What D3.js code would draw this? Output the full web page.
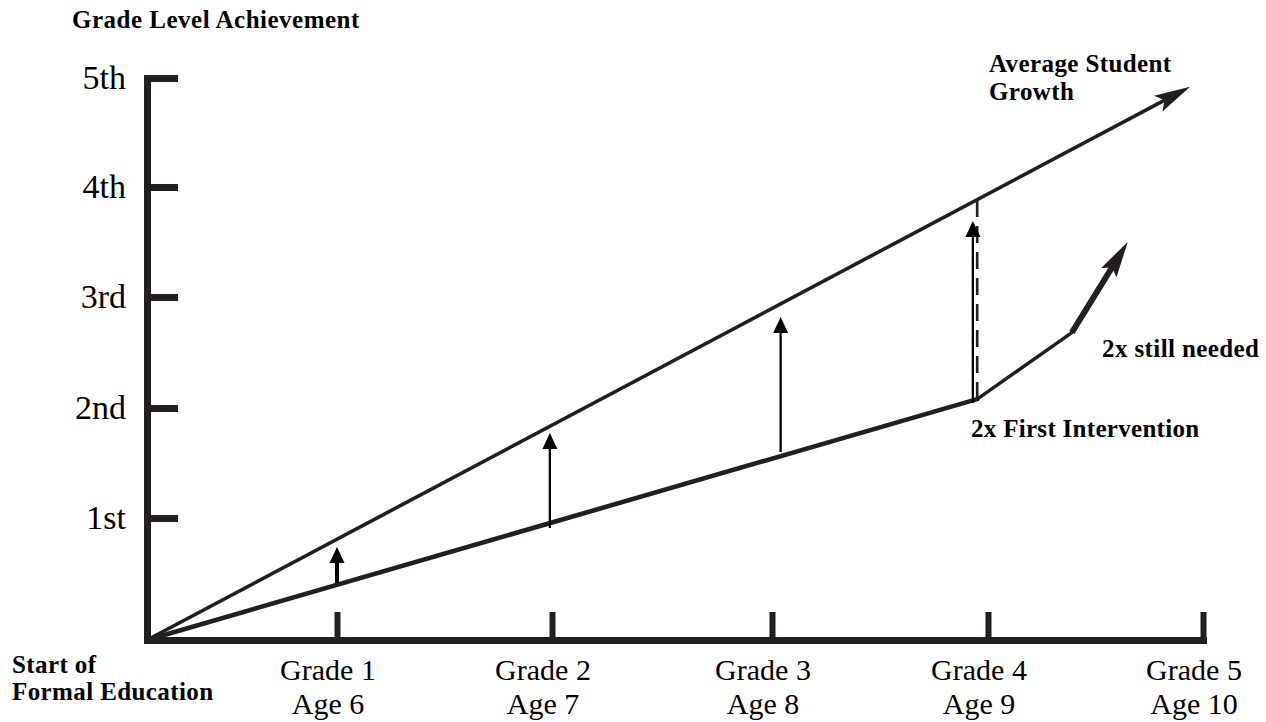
<!DOCTYPE html>
<html>
<head>
<meta charset="utf-8">
<script src="https://cdn.jsdelivr.net/npm/d3@7"></script>
<style>
  html, body { margin: 0; padding: 0; background: #fff; }
  svg { display: block; }
</style>
</head>
<body>
<svg id="chart" width="1266" height="722"></svg>
<script>
// ---------- data ----------
const xTickGrades = [1, 2, 3, 4, 5];
const gradeLabels = ["Grade 1", "Grade 2", "Grade 3", "Grade 4", "Grade 5"];
const ageLabels = ["Age 6", "Age 7", "Age 8", "Age 9", "Age 10"];
const yTickLevels = [1, 2, 3, 4, 5];
const levelLabels = ["1st", "2nd", "3rd", "4th", "5th"];

// [grade position, achievement level]
const averageGrowth = [[0, 0], [4.94, 4.92]];
const firstIntervention = [[0, 0], [3.95, 2.08], [4.39, 2.68]];
const stillNeeded = [[4.39, 2.68], [4.65, 3.5]];

// gap arrows between the two lines
const gapGrades = [1.0, 1.99, 3.04, 3.93];
const gapFrom = [0.467, 0.918, 1.6, 2.045];
const gapTo = [0.762, 1.773, 2.82, 3.69];
const dashedGap = [[3.95, 2.08], [3.95, 3.88]];

// ---------- drawing ----------
const ink = "#231f20";
const svg = d3.select("#chart");
svg.append("rect").attr("width", 1266).attr("height", 722).attr("fill", "#fff");

const x = d3.scaleLinear().domain([0, 1, 2, 3, 4, 5]).range([147, 337, 552, 772, 988, 1203]);
const y = d3.scaleLinear().domain([0, 1, 2, 3, 4, 5]).range([640, 518, 408, 297, 187, 78]);

const serif = "'Liberation Serif', 'Times New Roman', Times, serif";

// Y axis
const yAxis = svg.append("g")
  .attr("transform", `translate(${x(0)},0)`)
  .call(d3.axisLeft(y).tickValues(yTickLevels)
    .tickFormat((d, i) => levelLabels[i])
    .tickSizeInner(-31).tickSizeOuter(0).tickPadding(21));
yAxis.select(".domain").attr("stroke", ink).attr("stroke-width", 7).attr("stroke-linecap", "square");
yAxis.selectAll(".tick line").attr("stroke", ink).attr("stroke-width", 7);
yAxis.selectAll(".tick text").attr("fill", "#000").attr("font-family", serif).attr("font-size", 34).attr("dy", "0.32em");

// X axis
const xAxis = svg.append("g")
  .attr("transform", `translate(0,${y(0)})`)
  .call(d3.axisBottom(x).tickValues(xTickGrades).tickFormat("")
    .tickSizeInner(-28).tickSizeOuter(0));
xAxis.select(".domain").attr("stroke", ink).attr("stroke-width", 7).attr("stroke-linecap", "square");
xAxis.selectAll(".tick line").attr("stroke", ink).attr("stroke-width", 6);

// x labels (two lines)
const xlg = svg.append("g").attr("font-family", serif).attr("font-size", 30).attr("fill", "#000").attr("text-anchor", "middle");
xlg.selectAll("text.grade").data(xTickGrades).join("text").attr("class", "grade")
  .attr("x", d => x(d) - 9).attr("y", y(0) + 40).text((d, i) => gradeLabels[i]);
xlg.selectAll("text.age").data(xTickGrades).join("text").attr("class", "age")
  .attr("x", d => x(d) - 9).attr("y", y(0) + 74).text((d, i) => ageLabels[i]);

const line = d3.line().x(d => x(d[0])).y(d => y(d[1]));

function arrowHead(tip, from, len, halfW, notch) {
  const tx = x(tip[0]), ty = y(tip[1]);
  const fx = x(from[0]), fy = y(from[1]);
  const a = Math.atan2(ty - fy, tx - fx);
  const ux = Math.cos(a), uy = Math.sin(a);
  const px = -uy, py = ux;
  const bx = tx - ux * len, by = ty - uy * len;
  const pts = [
    [tx, ty],
    [bx + px * halfW, by + py * halfW],
    [tx - ux * (len - notch), ty - uy * (len - notch)],
    [bx - px * halfW, by - py * halfW]
  ];
  return "M" + pts.map(p => p.join(",")).join("L") + "Z";
}
function shortened(p0, p1, cut) {
  const x0 = x(p0[0]), y0 = y(p0[1]), x1 = x(p1[0]), y1 = y(p1[1]);
  const L = Math.hypot(x1 - x0, y1 - y0);
  return `M${x0},${y0}L${x1 - (x1 - x0) / L * cut},${y1 - (y1 - y0) / L * cut}`;
}

// average student growth line + arrow
svg.append("path").attr("d", shortened(averageGrowth[0], averageGrowth[1], 25))
  .attr("fill", "none").attr("stroke", ink).attr("stroke-width", 3.6);
svg.append("path").attr("d", arrowHead(averageGrowth[1], averageGrowth[0], 36, 9, 7)).attr("fill", ink);

// first intervention line (two segments)
d3.pairs(firstIntervention).forEach((seg, i) => {
  svg.append("path").attr("d", line(seg))
    .attr("fill", "none").attr("stroke", ink)
    .attr("stroke-width", i === 0 ? 4.6 : 3.4).attr("stroke-linecap", "round");
});

// still needed thick arrow
svg.append("path").attr("d", shortened(stillNeeded[0], stillNeeded[1], 25))
  .attr("fill", "none").attr("stroke", ink).attr("stroke-width", 6);
svg.append("path").attr("d", arrowHead(stillNeeded[1], stillNeeded[0], 36, 9, 6)).attr("fill", ink);

// dashed gap line at grade 4
svg.append("path").attr("d", line(dashedGap))
  .attr("fill", "none").attr("stroke", ink).attr("stroke-width", 2.6)
  .attr("stroke-dasharray", "17,9");

// gap arrows
gapGrades.forEach((g, i) => {
  const from = [g, gapFrom[i]], to = [g, gapTo[i]];
  svg.append("path").attr("d", shortened(from, to, 12))
    .attr("stroke", "#000").attr("stroke-width", i === 0 ? 4 : 2.3);
  svg.append("path").attr("d", arrowHead(to, from, 16, 7.5, 0)).attr("fill", "#000");
});

// text labels
const boldText = (txt, px, py, ls) => svg.append("text")
  .attr("x", px).attr("y", py)
  .attr("font-family", serif).attr("font-weight", "bold").attr("font-size", 25)
  .attr("letter-spacing", ls).attr("fill", "#000").text(txt);

boldText("Grade Level Achievement", 72, 28, 0.5);
boldText("Average Student", 989, 72, 0.4);
boldText("Growth", 989, 100, 0.4);
boldText("2x still needed", 1102, 357, 0.4);
boldText("2x First Intervention", 971, 437, 0.3);
boldText("Start of", 12, 673, 0.4);
boldText("Formal Education", 12, 700, 0.4);
</script>
</body>
</html>
